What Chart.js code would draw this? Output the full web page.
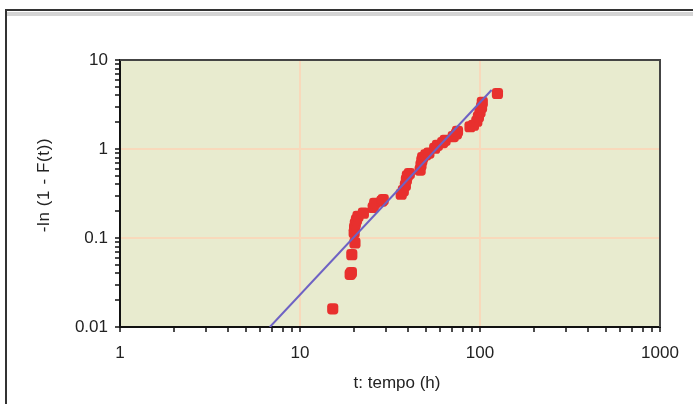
<!DOCTYPE html>
<html>
<head>
<meta charset="utf-8">
<script src="https://cdn.jsdelivr.net/npm/chart.js@4/dist/chart.umd.min.js"></script>
<style>
  html, body { margin: 0; padding: 0; background: #fff; }
  #wrap { position: relative; width: 693px; height: 404px; overflow: hidden; }
  #frame { position: absolute; left: 5px; top: 9px; width: 720px; height: 420px;
           border-left: 2px solid #333; border-top: 2px solid #333; }
  #band { position: absolute; left: 7px; top: 12px; width: 720px; height: 4px; background: #d4d4d4; }
  canvas { position: absolute; left: 0; top: 0; }
</style>
</head>
<body>
<div id="wrap">
  <div id="frame"></div>
  <div id="band"></div>
  <canvas id="chart" width="693" height="404"></canvas>
</div>
<script>
// observed failure times (h) and -ln(1 - F(t))
const tempo = [15.2, 19.0, 19.3, 19.4, 20.2, 20.0, 20.1, 20.3, 20.6, 21.0, 22.5, 25.5, 26.0, 28.5, 29.0,
               36.5, 37.5, 38.5, 39.0, 39.5, 40.5, 46.5, 47.0, 47.5, 48.0, 50.0, 52.0, 56.0, 58.0,
               62.0, 64.0, 71.0, 74.0, 75.0, 88.0, 92.0, 96.0, 98.0, 100.0, 102.0, 103.0, 125.0];
const lnF = [0.016, 0.039, 0.041, 0.065, 0.088, 0.115, 0.13, 0.145, 0.16, 0.175, 0.19, 0.22, 0.245, 0.26, 0.27,
             0.31, 0.34, 0.39, 0.45, 0.50, 0.53, 0.58, 0.66, 0.74, 0.80, 0.86, 0.90, 1.02, 1.10,
             1.18, 1.25, 1.38, 1.48, 1.58, 1.78, 1.85, 2.05, 2.3, 2.6, 2.95, 3.35, 4.2];

// fitted Weibull line (end points)
const fitX = [6.8, 116];
const fitY = [0.01, 4.6];

const xDecades = [1, 10, 100, 1000];
const yDecades = [0.01, 0.1, 1, 10];

const plotBg = "#e8ebcf";
const gridColor = "#f8d9bb";
const fontFam = "'Liberation Sans', Arial, sans-serif";

function isDecade(v) {
    const l = Math.log10(v);
    return Math.abs(l - Math.round(l)) < 1e-6;
}

function logTicks(decades) {
    const out = [];
    decades.forEach((d, i) => {
        if (i === decades.length - 1) { out.push({ value: d }); return; }
        for (let k = 1; k <= 9; k++) out.push({ value: +(d * k).toPrecision(6) });
    });
    return out;
}

const framePlugin = {
    id: "framePlugin",
    beforeDraw(chart) {
        const { ctx, chartArea: a } = chart;
        ctx.save();
        ctx.fillStyle = plotBg;
        ctx.fillRect(a.left, a.top, a.right - a.left, a.bottom - a.top);
        ctx.restore();
    },
    afterDraw(chart) {
        const { ctx, chartArea: a } = chart;
        ctx.save();
        ctx.strokeStyle = "#444";
        ctx.lineWidth = 2;
        ctx.beginPath();
        ctx.moveTo(a.left, a.top);
        ctx.lineTo(a.right, a.top);
        ctx.lineTo(a.right, a.bottom);
        ctx.stroke();

        ctx.fillStyle = "#222";
        ctx.font = "17px " + fontFam;
        ctx.textAlign = "center";
        ctx.textBaseline = "middle";
        ctx.fillText("t: tempo (h)", 397, 383);

        ctx.translate(44, 185);
        ctx.rotate(-Math.PI / 2);
        ctx.letterSpacing = "0.6px";
        ctx.fillText("-ln (1 - F(t))", 0, 0);
        ctx.restore();
    }
};

new Chart(document.getElementById("chart"), {
    type: "scatter",
    data: {
        datasets: [
            {
                label: "fit",
                type: "line",
                data: fitX.map((x, i) => ({ x: x, y: fitY[i] })),
                borderColor: "#6e62c4",
                borderWidth: 2,
                pointRadius: 0,
                fill: false,
                order: 1
            },
            {
                label: "dati",
                data: tempo.map((t, i) => ({ x: t, y: lnF[i] })),
                backgroundColor: "#e8302e",
                borderColor: "#e8302e",
                borderWidth: 0,
                pointRadius: 6.5,
                pointStyle: "rectRounded",
                order: 2
            }
        ]
    },
    options: {
        responsive: false,
        animation: false,
        events: [],
        layout: { padding: { left: 0, top: 60, right: 33, bottom: 0 } },
        plugins: { legend: { display: false }, tooltip: { enabled: false } },
        scales: {
            x: {
                type: "logarithmic",
                min: 1,
                max: 1000,
                afterBuildTicks: (scale) => { scale.ticks = logTicks(xDecades); },
                afterFit: (scale) => { scale.height = 77; },
                border: { display: true, color: "#111", width: 2 },
                grid: {
                    color: (c) => (c.tick && isDecade(c.tick.value) && c.tick.value !== 1 && c.tick.value !== 1000) ? gridColor : "rgba(0,0,0,0)",
                    lineWidth: 2,
                    tickColor: "#111",
                    tickWidth: 1.5,
                    tickLength: 5,
                    drawTicks: true
                },
                ticks: {
                    autoSkip: false,
                    maxRotation: 0,
                    padding: 11,
                    color: "#222",
                    font: { family: fontFam, size: 17 },
                    callback: (v) => isDecade(v) ? String(v) : ""
                }
            },
            y: {
                type: "logarithmic",
                min: 0.01,
                max: 10,
                afterBuildTicks: (scale) => { scale.ticks = logTicks(yDecades); },
                afterFit: (scale) => { scale.width = 120; },
                border: { display: true, color: "#111", width: 2 },
                grid: {
                    color: (c) => (c.tick && isDecade(c.tick.value) && c.tick.value !== 0.01 && c.tick.value !== 10) ? gridColor : "rgba(0,0,0,0)",
                    lineWidth: 2,
                    tickColor: "#111",
                    tickWidth: 1.5,
                    tickLength: 5,
                    drawTicks: true
                },
                ticks: {
                    autoSkip: false,
                    padding: 7,
                    color: "#222",
                    font: { family: fontFam, size: 17 },
                    callback: (v) => isDecade(v) ? String(+v.toPrecision(3)) : ""
                }
            }
        }
    },
    plugins: [framePlugin]
});
</script>
</body>
</html>
